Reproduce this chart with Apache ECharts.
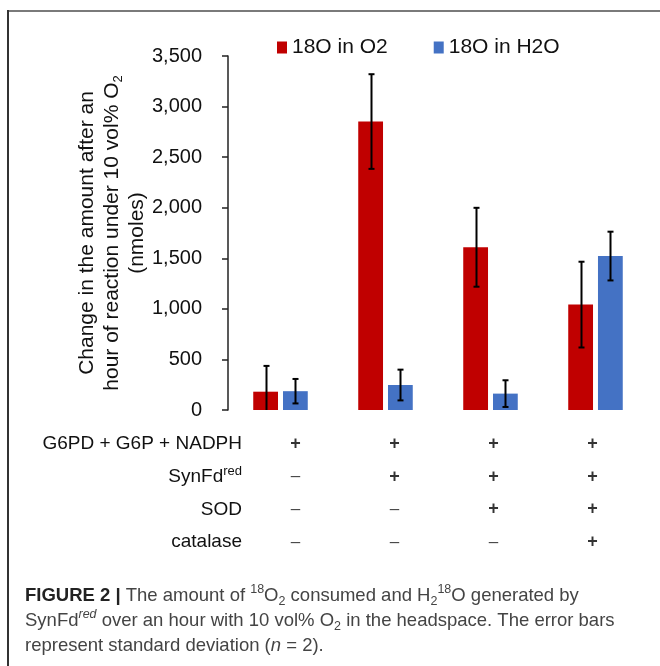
<!DOCTYPE html>
<html>
<head>
<meta charset="utf-8">
<script src="https://cdn.jsdelivr.net/npm/echarts@6/dist/echarts.min.js"></script>
<style>
html,body{margin:0;padding:0;background:#fff;}
#chart{width:660px;height:666px;}
</style>
</head>
<body>
<div id="chart"></div>
<script>
// ---- data ----
const categories = ['A', 'B', 'C', 'D'];
const seriesNames = ['18O in O2', '18O in H2O'];
const o2Values = [181, 2852, 1609, 1042];
const o2Errors = [255, 468, 390, 424];
const h2oValues = [186, 247, 162, 1522];
const h2oErrors = [121, 152, 132, 241];
const yTicks = { min: 0, max: 3500, interval: 500 };
const rowLabels = ['G6PD + G6P + NADPH', 'SynFd{sup|red}', 'SOD', 'catalase'];
const tableMarks = [
  ['+', '+', '+', '+'],
  ['-', '+', '+', '+'],
  ['-', '-', '+', '+'],
  ['-', '-', '-', '+']
];

// ---- build ----
const FONT = 'Liberation Sans, Arial, sans-serif';
const CAP_FONT = 'Liberation Sans, Arial, sans-serif';
const CAP_SIZE = 18.5;
const BAR_W = 0.236; // fraction of band
const BAR_GAP = 0.2; // fraction of bar width
const colors = ['#C00000', '#4472C4'];

const tableData = [];
tableMarks.forEach((row, r) => row.forEach((m, c) => tableData.push([c, r, m])));

function errSeries(idx, vals, errs) {
  return {
    type: 'custom',
    xAxisIndex: 0, yAxisIndex: 0,
    clip: true,
    silent: true,
    z: 10,
    data: vals.map((v, i) => [i, v, errs[i]]),
    renderItem: function (params, api) {
      const ci = api.value(0), v = api.value(1), e = api.value(2);
      const band = api.size([1, 0])[0];
      const bw = band * BAR_W;
      const off = (bw * (1 + BAR_GAP)) / 2 * (idx === 0 ? -1 : 1);
      const top = api.coord([ci, v + e]);
      const bot = api.coord([ci, v - e]);
      const x = Math.round(top[0] + off) + 0.5;
      const cap = 3;
      const st = { stroke: '#000', lineWidth: 2 };
      return {
        type: 'group',
        children: [
          { type: 'line', shape: { x1: x, y1: top[1], x2: x, y2: bot[1] }, style: st },
          { type: 'line', shape: { x1: x - cap, y1: top[1], x2: x + cap, y2: top[1] }, style: st },
          { type: 'line', shape: { x1: x - cap, y1: bot[1], x2: x + cap, y2: bot[1] }, style: st }
        ]
      };
    }
  };
}

const chart = echarts.init(document.getElementById('chart'), null, { renderer: 'canvas' });
chart.setOption({
  animation: false,
  backgroundColor: '#fff',
  textStyle: { fontFamily: FONT },
  legend: {
    data: seriesNames,
    left: 272, top: 32,
    itemWidth: 10, itemHeight: 12,
    itemGap: 46,
    icon: 'rect',
    textStyle: { fontSize: 21, color: '#111', fontFamily: FONT },
    selectedMode: false
  },
  grid: [
    { left: 228, top: 56, width: 420, height: 354 },
    { left: 246, top: 427.5, width: 396, height: 131 }
  ],
  xAxis: [
    {
      type: 'category', gridIndex: 0, data: categories,
      axisLine: { show: false }, axisTick: { show: false }, axisLabel: { show: false }
    },
    {
      type: 'category', gridIndex: 1, data: categories,
      axisLine: { show: false }, axisTick: { show: false }, axisLabel: { show: false }
    }
  ],
  yAxis: [
    {
      type: 'value', gridIndex: 0,
      min: yTicks.min, max: yTicks.max, interval: yTicks.interval,
      splitLine: { show: false },
      axisLine: { show: true, lineStyle: { color: '#222', width: 1.5 } },
      axisTick: { show: true, length: 6, lineStyle: { color: '#222', width: 1.5 } },
      axisLabel: {
        margin: 26, fontSize: 20, color: '#111', fontFamily: FONT,
        formatter: v => v.toLocaleString('en-US')
      },
      name: 'Change in the amount after an\nhour of reaction under 10 vol% O{sub|2}\n(nmoles)',
      nameLocation: 'middle',
      nameRotate: 90,
      nameGap: 78,
      nameMoveOverlap: false,
      nameTextStyle: {
        fontSize: 21, color: '#111', fontFamily: FONT, lineHeight: 25, align: 'center',
        rich: { sub: { fontSize: 13, lineHeight: 13, verticalAlign: 'bottom', color: '#111', fontFamily: FONT } }
      }
    },
    {
      type: 'category', gridIndex: 1, data: rowLabels, inverse: true,
      axisLine: { show: false }, axisTick: { show: false },
      axisLabel: {
        margin: 4, fontSize: 19, color: '#111', fontFamily: FONT, lineHeight: 24,
        rich: { sup: { fontSize: 13, lineHeight: 13, verticalAlign: 'top', color: '#111', fontFamily: FONT } }
      }
    }
  ],
  series: [
    {
      name: seriesNames[0], type: 'bar', xAxisIndex: 0, yAxisIndex: 0,
      data: o2Values, barWidth: (BAR_W * 100) + '%', barGap: (BAR_GAP * 100) + '%',
      itemStyle: { color: colors[0] }, silent: true
    },
    {
      name: seriesNames[1], type: 'bar', xAxisIndex: 0, yAxisIndex: 0,
      data: h2oValues, barWidth: (BAR_W * 100) + '%', barGap: (BAR_GAP * 100) + '%',
      itemStyle: { color: colors[1] }, silent: true
    },
    errSeries(0, o2Values, o2Errors),
    errSeries(1, h2oValues, h2oErrors),
    {
      type: 'scatter', xAxisIndex: 1, yAxisIndex: 1,
      data: tableData, symbolSize: 1, itemStyle: { color: 'rgba(0,0,0,0)' }, silent: true,
      label: {
        show: true, position: 'inside',
        formatter: p => p.data[2] === '+' ? '{p|+}' : '{m|\u2013}',
        rich: {
          p: { fontSize: 18, fontWeight: 'bold', color: '#000', fontFamily: FONT },
          m: { fontSize: 17, color: '#111', fontFamily: FONT }
        }
      }
    }
  ],
  graphic: [
    { type: 'line', shape: { x1: 7, y1: 11, x2: 660, y2: 11 }, style: { stroke: '#7a7a7a', lineWidth: 2 }, silent: true },
    { type: 'line', shape: { x1: 8, y1: 10, x2: 8, y2: 666 }, style: { stroke: '#333', lineWidth: 2 }, silent: true },
    {
      type: 'text', left: 25, top: 583, silent: true,
      style: {
        text: '{b|FIGURE 2 |} The amount of {sup|18}O{sub|2} consumed and H{sub|2}{sup|18}O generated by\n' +
              'SynFd{supi|red} over an hour with 10 vol% O{sub|2} in the headspace. The error bars\n' +
              'represent standard deviation ({i|n} = 2).',
        font: CAP_SIZE + 'px ' + CAP_FONT,
        fill: '#444',
        lineHeight: 25,
        rich: {
          b: { fontFamily: CAP_FONT, fontSize: CAP_SIZE, fontWeight: 'bold', fill: '#222', lineHeight: 25 },
          sup: { fontFamily: CAP_FONT, fontSize: 12.5, lineHeight: 12, verticalAlign: 'top', fill: '#444' },
          supi: { fontFamily: CAP_FONT, fontSize: 12.5, lineHeight: 12, verticalAlign: 'top', fontStyle: 'italic', fill: '#444' },
          sub: { fontFamily: CAP_FONT, fontSize: 12.5, lineHeight: 12, verticalAlign: 'bottom', fill: '#444' },
          i: { fontFamily: CAP_FONT, fontSize: CAP_SIZE, fontStyle: 'italic', fill: '#444', lineHeight: 25 }
        }
      }
    }
  ]
});
</script>
</body>
</html>
